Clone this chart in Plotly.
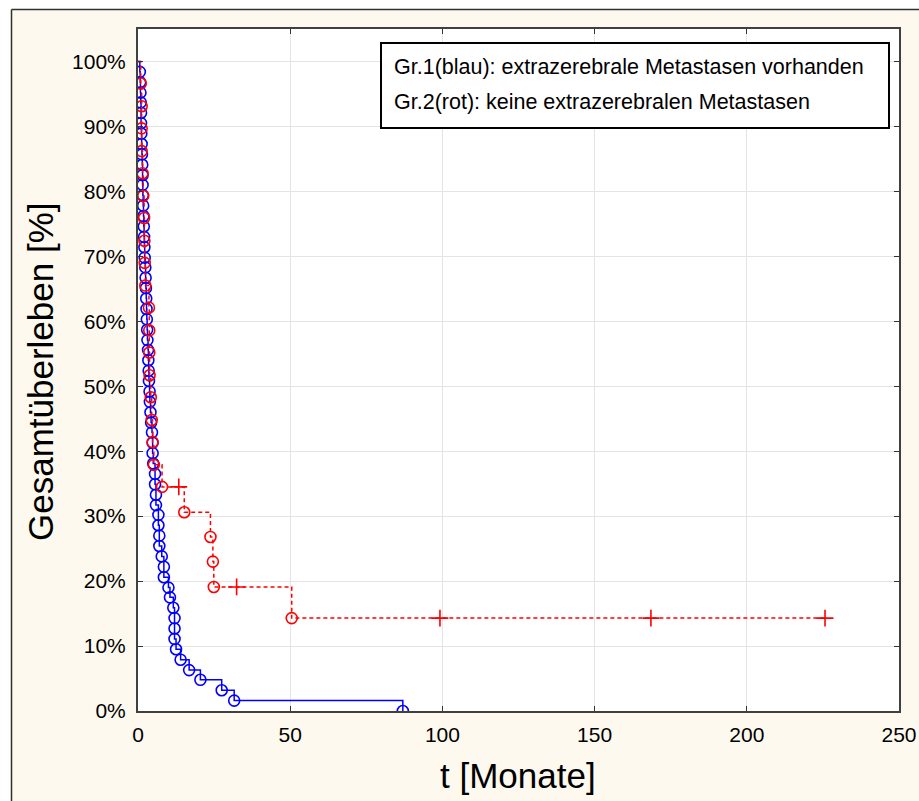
import plotly.graph_objects as go

# Kaplan-Meier data: event times [months] and survival after each event [%]
blue_t = [0.6, 0.7, 0.8, 0.9, 1.0, 1.0, 1.1, 1.2, 1.3, 1.4, 1.5, 1.5, 1.6, 1.7,
          1.8, 1.9, 2.0, 2.1, 2.2, 2.4, 2.5, 2.6, 2.7, 2.8, 2.9, 3.0, 3.1, 3.3,
          3.4, 3.5, 3.6, 3.8, 3.9, 4.1, 4.3, 4.6, 4.8, 4.8, 5.0, 5.6, 5.6, 5.9,
          5.9, 6.7, 6.7, 7.0, 7.0, 7.8, 8.5, 8.5, 10.0, 10.5, 11.6, 12.0, 12.0,
          12.0, 12.5, 14.0, 16.8, 20.5, 27.5, 31.6, 87.0]
blue_s = [98.4, 96.8, 95.2, 93.7, 92.1, 90.5, 88.9, 87.3, 85.7, 84.1, 82.5, 81.0,
          79.4, 77.8, 76.2, 74.6, 73.0, 71.4, 69.8, 68.3, 66.7, 65.1, 63.5, 61.9,
          60.3, 58.7, 57.1, 55.6, 54.0, 52.4, 50.8, 49.2, 47.6, 46.0, 44.4, 42.9,
          41.3, 39.7, 38.1, 36.5, 34.9, 33.3, 31.7, 30.2, 28.6, 27.0, 25.4, 23.8,
          22.2, 20.6, 19.0, 17.5, 15.9, 14.3, 12.7, 11.1, 9.5, 7.9, 6.3, 4.8,
          3.2, 1.6, 0.0]

red_t = [0.9, 1.2, 1.2, 1.2, 1.5, 1.7, 2.0, 2.1, 2.2, 2.4, 3.6, 3.7, 3.7, 3.8,
         4.2, 4.5, 4.8, 5.2, 7.9, 15.2, 23.8, 24.6, 24.9, 50.5]
red_s = [96.6, 93.1, 89.7, 86.2, 82.8, 79.3, 75.9, 72.4, 69.0, 65.5, 62.1, 58.6,
         55.2, 51.7, 48.3, 44.8, 41.4, 37.9, 34.5, 30.6, 26.8, 23.0, 19.1, 14.3]
# censored observations of group 2
red_cens_t = [13.4, 32.4, 99.2, 168.5, 225.7]
red_cens_s = [34.5, 19.1, 14.3, 14.3, 14.3]

x_ticks = [0, 50, 100, 150, 200, 250]
y_ticks = [0, 10, 20, 30, 40, 50, 60, 70, 80, 90, 100]
y_tick_text = [f"{v}%" for v in y_ticks]

legend_lines = ["Gr.1(blau): extrazerebrale Metastasen vorhanden",
                "Gr.2(rot): keine extrazerebralen Metastasen"]

BLUE = "#0000ff"
RED = "#ff0000"
FONT = "Liberation Sans, Arial, sans-serif"

W, H = 919, 801
L, R, T, B = 138, 20, 29, 90
PW, PH = W - L - R, H - T - B


def px(xp):
    return (xp - L) / PW


def py(yp):
    return (H - B - yp) / PH


fig = go.Figure()

# group 1: solid step curve with events as open circles
fig.add_trace(go.Scatter(
    x=[0] + blue_t, y=[100] + blue_s, mode="lines",
    line=dict(color=BLUE, width=1.5, shape="hv"), hoverinfo="skip"))
fig.add_trace(go.Scatter(
    x=blue_t, y=blue_s, mode="markers",
    marker=dict(symbol="circle-open", size=11, color=BLUE, line=dict(width=1.6))))

# group 2: dashed step curve, events as circles, censored as crosses
pts = sorted(zip(red_t + red_cens_t, red_s + red_cens_s), key=lambda p: p[0])
fig.add_trace(go.Scatter(
    x=[0] + [p[0] for p in pts], y=[100] + [p[1] for p in pts], mode="lines",
    line=dict(color=RED, width=1.5, shape="hv", dash="4px,3px"), hoverinfo="skip"))
fig.add_trace(go.Scatter(
    x=red_t, y=red_s, mode="markers",
    marker=dict(symbol="circle-open", size=11, color=RED, line=dict(width=1.6))))
fig.add_trace(go.Scatter(
    x=red_cens_t, y=red_cens_s, mode="markers",
    marker=dict(symbol="cross-thin-open", size=12, color=RED, line=dict(width=1.6, color=RED))))

axis_common = dict(
    ticks="inside", ticklen=5, tickwidth=1, tickcolor="#333333",
    showline=True, linecolor="#404040", linewidth=2, mirror="ticks",
    showgrid=True, gridcolor="#e4e4e4", gridwidth=1, zeroline=False,
    automargin=False,
    tickfont=dict(family=FONT, size=21, color="#000000"),
)

fig.update_xaxes(range=[0, 250], tickmode="array", tickvals=x_ticks,
                 ticktext=[str(v) for v in x_ticks], ticklabelstandoff=4, **axis_common)
fig.update_yaxes(range=[0, 105], tickmode="array", tickvals=y_ticks,
                 ticktext=y_tick_text, ticklabelstandoff=6, **axis_common)

shapes = [
    # white strips outside the cream frame
    dict(type="rect", xref="paper", yref="paper", x0=px(-5), x1=px(11.5),
         y0=py(-5), y1=py(H + 5), fillcolor="white", line=dict(width=0), layer="below"),
    dict(type="rect", xref="paper", yref="paper", x0=px(-5), x1=px(W + 5),
         y0=py(-5), y1=py(9.5), fillcolor="white", line=dict(width=0), layer="below"),
    # frame lines
    dict(type="line", xref="paper", yref="paper", x0=px(11.5), x1=px(W + 5),
         y0=py(9.5), y1=py(9.5), line=dict(color="#303030", width=1.5)),
    dict(type="line", xref="paper", yref="paper", x0=px(11.5), x1=px(11.5),
         y0=py(9.5), y1=py(H + 5), line=dict(color="#303030", width=1.5)),
    # legend box
    dict(type="rect", xref="paper", yref="paper", x0=px(381), x1=px(889),
         y0=py(128), y1=py(43), fillcolor="white", line=dict(color="#000000", width=2)),
]

annotations = [
    dict(text="Gesamtüberleben [%]", xref="paper", yref="paper", x=px(40), y=py(372),
         xanchor="center", yanchor="middle", textangle=-90, showarrow=False,
         font=dict(family=FONT, size=35, color="#000000")),
    dict(text="t [Monate]", xref="paper", yref="paper", x=px(518), y=py(776),
         xanchor="center", yanchor="middle", showarrow=False,
         font=dict(family=FONT, size=35, color="#000000")),
]
for i, line in enumerate(legend_lines):
    annotations.append(dict(
        text=line, xref="paper", yref="paper", x=px(392), y=py(67 + 35 * i),
        xanchor="left", yanchor="middle", showarrow=False,
        font=dict(family=FONT, size=21.5, color="#000000")))

fig.update_layout(
    width=W, height=H,
    margin=dict(l=L, r=R, t=T, b=B, pad=0),
    paper_bgcolor="#fdf9ee", plot_bgcolor="white",
    showlegend=False, shapes=shapes, annotations=annotations,
)

fig.write_html("out.html")
